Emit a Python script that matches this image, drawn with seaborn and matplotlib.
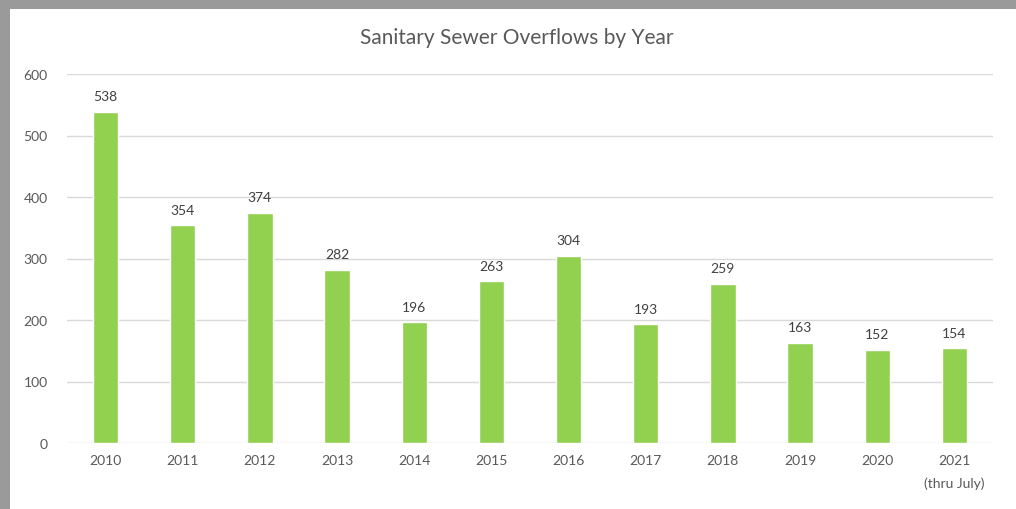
import matplotlib
matplotlib.use("Agg")
import matplotlib.pyplot as plt
import seaborn as sns
import pandas as pd

years = ["2010", "2011", "2012", "2013", "2014", "2015", "2016", "2017", "2018", "2019", "2020", "2021"]
overflows = [538, 354, 374, 282, 196, 263, 304, 193, 259, 163, 152, 154]
tick_labels = ["2010", "2011", "2012", "2013", "2014", "2015", "2016", "2017", "2018", "2019", "2020", "2021\n(thru July)"]
title = "Sanitary Sewer Overflows by Year"

sns.set_theme(style="white")
plt.rcParams['font.family'] = ['Lato', 'DejaVu Sans']

df = pd.DataFrame({"year": years, "count": overflows})

fig = plt.figure(figsize=(10.16, 5.10), dpi=100)
fig.patch.set_facecolor("#9a9a9a")

# white card area as a background axes
bg = fig.add_axes([10/1016, 0, 1 - 10/1016, 1 - 10/510], zorder=-5)
bg.set_facecolor("white")
bg.set_xticks([])
bg.set_yticks([])
for s in bg.spines.values():
    s.set_visible(False)

ax = fig.add_axes([67/1016, 1 - 444/510, (993 - 67)/1016, (444 - 75)/510], zorder=1)
ax.set_facecolor("none")
sns.barplot(data=df, x="year", y="count", color="#92D050", width=0.33, ax=ax, saturation=1)

ax.set_ylim(0, 600)
ax.set_yticks(range(0, 601, 100))
ax.yaxis.grid(True, color="#D9D9D9", linewidth=1)
ax.set_axisbelow(True)
for s in ax.spines.values():
    s.set_visible(False)
ax.set_xlabel("")
ax.set_ylabel("")
ax.set_xticks(range(len(years)))
ax.set_xticklabels(tick_labels, fontsize=10, color="#595959", linespacing=2.0, va="top")
ax.tick_params(axis="y", labelsize=10, labelcolor="#595959", length=0, pad=14)
ax.tick_params(axis="x", length=0, pad=8)

for i, v in enumerate(overflows):
    ax.annotate(str(v), (i, v), xytext=(0, 7), textcoords="offset points",
                ha="center", va="bottom", fontsize=10, color="#404040")

fig.text(517/1016, 1 - 38/510, title, ha="center", va="center", fontsize=15, color="#595959")

fig.savefig("out.png", dpi=100, facecolor=fig.get_facecolor())
